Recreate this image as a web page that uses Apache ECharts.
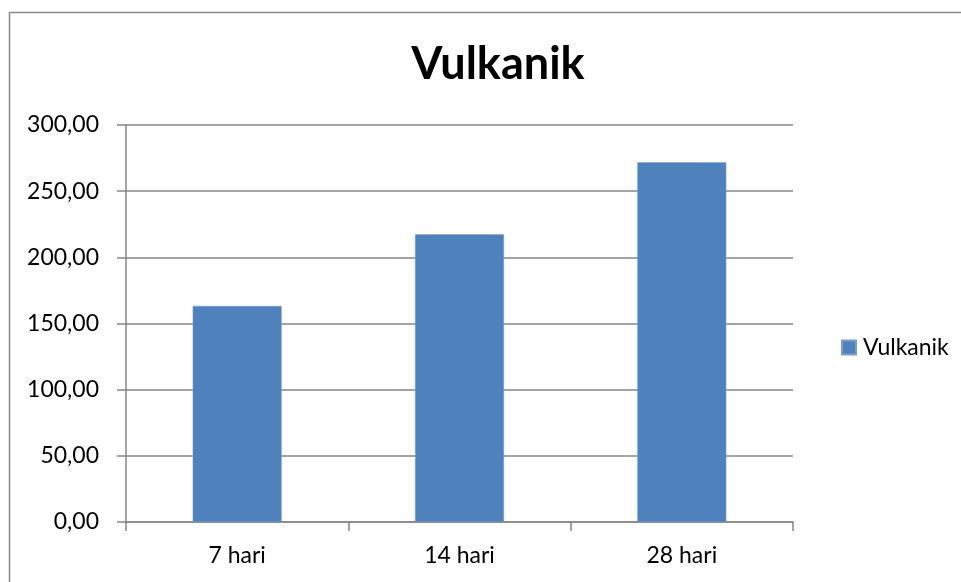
<!DOCTYPE html>
<html><head><meta charset="utf-8">
<script src="https://cdn.jsdelivr.net/npm/echarts@6/dist/echarts.min.js"></script>
<style>html,body{margin:0;padding:0;background:#fff}#c{width:961px;height:582px}</style>
</head><body><div id="c"></div>
<script>
const categories = ['7 hari', '14 hari', '28 hari'];
const values = [163.3, 217.4, 271.8];
const seriesName = 'Vulkanik';
const titleText = 'Vulkanik';

const chart = echarts.init(document.getElementById('c'), null, {renderer: 'canvas'});
const FONT = 'Lato';
chart.setOption({
  animation: false,
  backgroundColor: '#fff',
  graphic: [{type: 'rect', shape: {x: 9.5, y: 12.5, width: 1200, height: 1200}, style: {fill: 'none', stroke: '#8a8a8a', lineWidth: 1.5}, silent: true}],
  title: {text: titleText, left: 493, textAlign: 'center', top: 37,
    textStyle: {fontFamily: FONT, fontWeight: 'bold', fontSize: 45, color: '#000'}},
  legend: {data: [seriesName], left: 836, top: 331, icon: 'rect', itemWidth: 14, itemHeight: 14, itemGap: 6,
    textStyle: {fontFamily: FONT, fontSize: 23, color: '#000', padding: [0,0,0,2]}},
  grid: {left: 126, right: 168, top: 125, bottom: 60, containLabel: false},
  xAxis: {type: 'category', data: categories,
    axisLine: {lineStyle: {color: '#868686', width: 1.5}},
    axisTick: {show: true, length: 9, alignWithLabel: false, lineStyle: {color: '#868686', width: 1.5}},
    axisLabel: {fontFamily: FONT, fontSize: 23, color: '#000', margin: 22}},
  yAxis: {type: 'value', min: 0, max: 300, interval: 50,
    axisLine: {show: true, lineStyle: {color: '#868686', width: 1.5}},
    axisTick: {show: true, length: 9, lineStyle: {color: '#868686', width: 1.5}},
    splitLine: {lineStyle: {color: '#868686', width: 1.5}},
    axisLabel: {fontFamily: FONT, fontSize: 23, color: '#000', margin: 27,
      formatter: v => v.toFixed(2).replace('.', ',')}},
  series: [{name: seriesName, type: 'bar', data: values, barCategoryGap: '60%',
    itemStyle: {color: '#4F81BD', borderColor: '#7A9FCF', borderWidth: 0.5}}]
});
</script></body></html>
